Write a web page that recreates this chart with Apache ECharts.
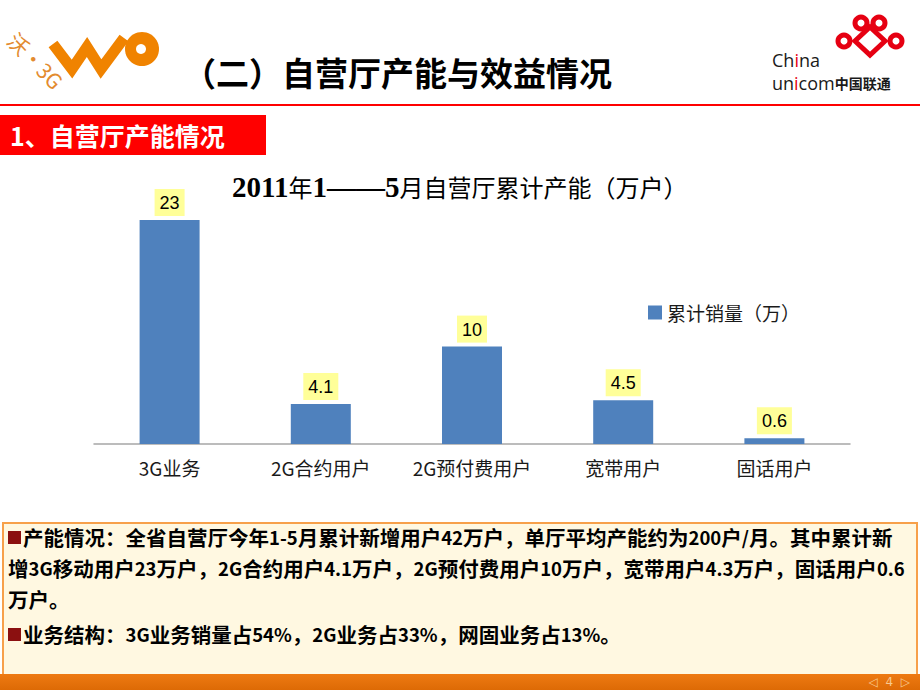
<!DOCTYPE html>
<html lang="zh-CN">
<head>
<meta charset="utf-8">
<title>自营厅产能与效益情况</title>
<script src="https://cdn.jsdelivr.net/npm/echarts@6/dist/echarts.min.js"></script>
<style>
  html, body { margin: 0; padding: 0; background: #fff; }
  #chart { width: 920px; height: 690px; }
</style>
</head>
<body>
<div id="chart"></div>
<script>
// chart data
const categories = ["3G业务", "2G合约用户", "2G预付费用户", "宽带用户", "固话用户"];
const salesValues = [23, 4.1, 10, 4.5, 0.6];
const seriesName = "累计销量（万）";

// slide texts
const slideTitle = "（二）自营厅产能与效益情况";
const sectionTitle = "1、自营厅产能情况";
const noteLines = [
  "产能情况：全省自营厅今年1-5月累计新增用户42万户，单厅平均产能约为200户/月。其中累计新",
  "增3G移动用户23万户，2G合约用户4.1万户，2G预付费用户10万户，宽带用户4.3万户，固话用户0.6",
  "万户。",
  "业务结构：3G业务销量占54%，2G业务占33%，网固业务占13%。",
];
const noteLineY = [537, 568, 599, 634];
const bulletLines = [0, 3];

const CJK = "'Noto Sans CJK SC', sans-serif";
const LATIN = "'Open Sans', sans-serif";
const orange = "#F08300";
const red = "#E60012";

// latin / digit runs are set a little smaller, like the narrow face of the slide
const toRich = (s) => s.replace(/[0-9A-Za-z.\-\/%]+/g, (m) => "{a|" + m + "}");

const chart = echarts.init(document.getElementById("chart"), null, { renderer: "svg" });

const graphics = [
  // left logo: 沃·3G + WO
  {
    type: "text",
    x: 12, y: 36, rotation: -0.8,
    style: { text: "沃·3G", fill: "#E38B2F", fontSize: 21, fontFamily: CJK, align: "left", verticalAlign: "middle" },
  },
  {
    type: "polyline",
    shape: { points: [[53, 44], [72, 69], [87, 47], [101, 69], [124, 38]] },
    style: { stroke: orange, lineWidth: 11, fill: null, lineJoin: "miter" },
  },
  { type: "circle", shape: { cx: 142, cy: 49, r: 17 }, style: { fill: orange } },
  { type: "circle", shape: { cx: 141, cy: 49, r: 5 }, style: { fill: "#fff" } },

  // slide title
  {
    type: "text",
    x: 183, y: 72,
    style: { text: slideTitle, fill: "#000", fontSize: 33, fontWeight: "bold", fontFamily: CJK, align: "left", verticalAlign: "middle" },
  },

  // right logo: China Unicom knot
  { type: "circle", shape: { cx: 861, cy: 23, r: 6 }, style: { fill: null, stroke: red, lineWidth: 5 } },
  { type: "circle", shape: { cx: 879, cy: 23, r: 6 }, style: { fill: null, stroke: red, lineWidth: 5 } },
  { type: "circle", shape: { cx: 844, cy: 41, r: 6 }, style: { fill: null, stroke: red, lineWidth: 5 } },
  { type: "circle", shape: { cx: 896, cy: 41, r: 6 }, style: { fill: null, stroke: red, lineWidth: 5 } },
  {
    type: "polygon",
    shape: { points: [[870, 27], [885, 41], [870, 55], [855, 41]] },
    style: { fill: null, stroke: red, lineWidth: 5 },
  },
  {
    type: "text",
    x: 772, y: 60,
    style: {
      text: "Ch{r|i}na", fill: "#1a1a1a", fontSize: 18, fontFamily: LATIN,
      align: "left", verticalAlign: "middle",
      rich: { r: { fill: red, fontSize: 18, fontFamily: LATIN } },
    },
  },
  {
    type: "text",
    x: 772, y: 83,
    style: {
      text: "un{r|i}com{c|中国联通}", fill: "#1a1a1a", fontSize: 18, fontFamily: LATIN,
      align: "left", verticalAlign: "middle",
      rich: {
        r: { fill: red, fontSize: 18, fontFamily: LATIN },
        c: { fill: "#1a1a1a", fontSize: 14, fontWeight: "bold", fontFamily: CJK },
      },
    },
  },

  // red rule + section header
  { type: "rect", shape: { x: 0, y: 104, width: 920, height: 2 }, style: { fill: "#FF0000" } },
  { type: "rect", shape: { x: 0, y: 115, width: 266, height: 40 }, style: { fill: "#FF0000" } },
  {
    type: "text",
    x: 10, y: 135,
    style: { text: sectionTitle, fill: "#fff", fontSize: 25, fontWeight: "bold", fontFamily: CJK, align: "left", verticalAlign: "middle" },
  },

  // notes box
  {
    type: "rect",
    shape: { x: 3, y: 523, width: 914, height: 170 },
    style: { fill: "#FFF8E1", stroke: "#F7A04A", lineWidth: 2 },
  },
  {
    type: "rect",
    shape: { x: 0, y: 674, width: 920, height: 16 },
    style: {
      fill: new echarts.graphic.LinearGradient(0, 0, 0, 1, [
        { offset: 0, color: "#EE7A12" },
        { offset: 1, color: "#DD6A05" },
      ]),
    },
  },
  {
    type: "text",
    x: 910, y: 682,
    style: { text: "◁  4  ▷", fill: "#F8C98E", fontSize: 12, fontFamily: "'DejaVu Sans', sans-serif", align: "right", verticalAlign: "middle" },
  },
];

bulletLines.forEach((i) => {
  graphics.push({
    type: "rect",
    shape: { x: 8, y: noteLineY[i] - 6, width: 13, height: 13 },
    style: { fill: "#8B1010" },
  });
});

noteLines.forEach((line, i) => {
  graphics.push({
    type: "text",
    x: bulletLines.includes(i) ? 23 : 8,
    y: noteLineY[i],
    style: {
      text: toRich(line), fill: "#000", fontSize: 20.5, fontWeight: "bold", fontFamily: CJK,
      align: "left", verticalAlign: "middle",
      rich: {
        a: { fill: "#000", fontSize: 18.5, fontWeight: "bold", fontFamily: CJK, lineHeight: 24 },
      },
    },
  });
});

const option = {
  animation: false,
  title: {
    text: "{n|2011}{c|年}{n|1——5}{c|月自营厅累计产能（万户）}",
    left: 232,
    top: 172,
    padding: 0,
    textStyle: {
      rich: {
        n: { fontFamily: "'Liberation Serif', serif", fontWeight: "bold", fontSize: 29, color: "#000" },
        c: { fontFamily: CJK, fontWeight: "normal", fontSize: 24, color: "#000" },
      },
    },
  },
  legend: {
    data: [seriesName],
    left: 643,
    top: 298,
    icon: "rect",
    itemWidth: 14,
    itemHeight: 14,
    textStyle: { fontSize: 19, color: "#1a1a1a", fontFamily: CJK },
  },
  grid: { left: 94, right: 70, top: 200.5, bottom: 246 },
  xAxis: {
    type: "category",
    data: categories,
    axisLine: { lineStyle: { color: "#A6A6A6", width: 1.5 } },
    axisTick: { show: false },
    axisLabel: { interval: 0, margin: 14, fontSize: 19, color: "#1a1a1a", fontFamily: CJK },
  },
  yAxis: {
    type: "value",
    min: 0,
    max: 25,
    show: false,
  },
  series: [
    {
      name: seriesName,
      type: "bar",
      data: salesValues,
      barWidth: 60,
      itemStyle: { color: "#4F81BD" },
      label: {
        show: true,
        position: "top",
        distance: 4,
        backgroundColor: "#FFFF99",
        padding: [5, 5, 4, 5],
        fontSize: 18,
        color: "#000",
        fontFamily: "'Liberation Sans', sans-serif",
      },
    },
  ],
  graphic: graphics,
};

chart.setOption(option);
</script>
</body>
</html>
